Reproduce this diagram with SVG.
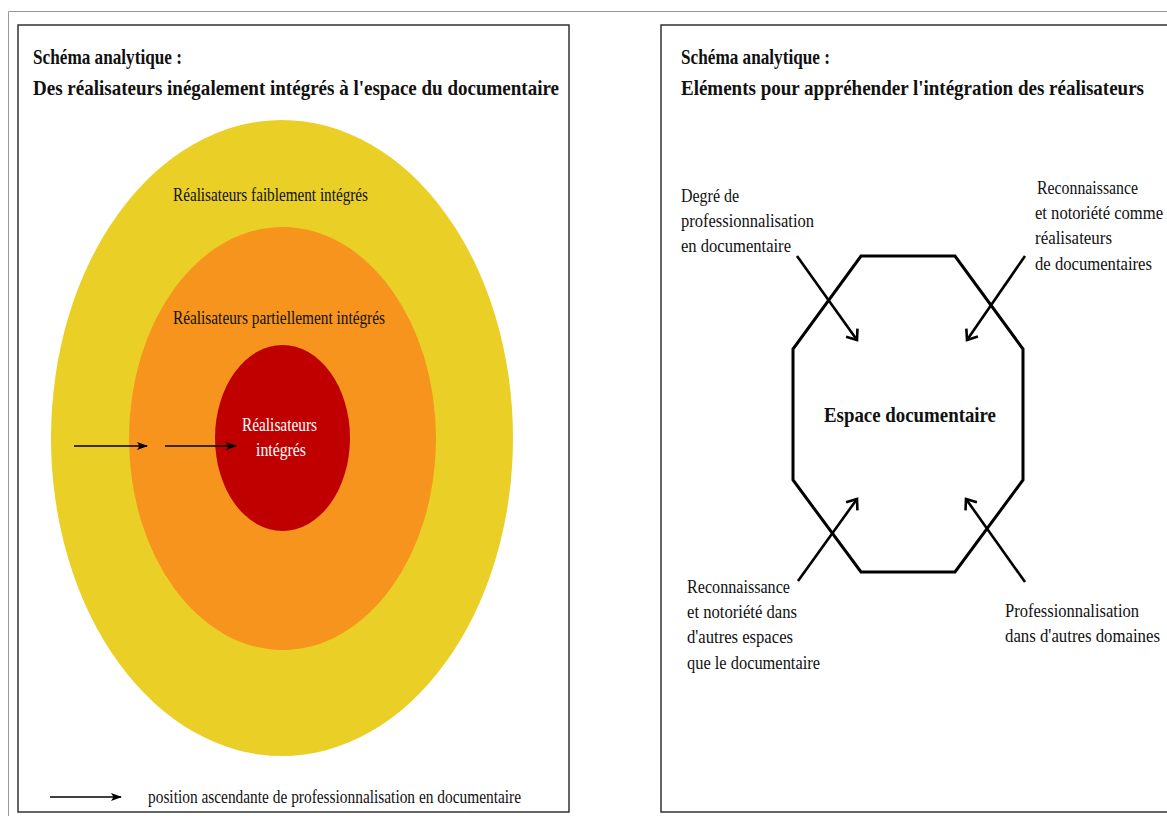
<svg xmlns="http://www.w3.org/2000/svg" width="1167" height="816" viewBox="0 0 1167 816">
<style>
.t{font-family:"Liberation Serif","DejaVu Serif",serif;fill:#111;}
.b{font-weight:bold;font-size:22px;}
.n{font-size:19px;}
.e{text-anchor:end;}
.frame{fill:none;stroke:#333;stroke-width:1.5;}
.arr{stroke:#000;stroke-width:1.6;fill:none;}
.oarr{stroke:#000;stroke-width:2.6;fill:none;}
</style>
<defs>
<marker id="solid" markerUnits="userSpaceOnUse" markerWidth="12" markerHeight="10" refX="10" refY="4" orient="auto">
<path d="M0,0 L11,4 L0,8 L2.5,4 z" fill="#000"/>
</marker>
<marker id="open" markerUnits="userSpaceOnUse" markerWidth="24" markerHeight="24" refX="12" refY="12" orient="auto" overflow="visible">
<path d="M3,5 L12,12 L3,19" fill="none" stroke="#000" stroke-width="2.6"/>
</marker>
</defs>
<rect width="1167" height="816" fill="#fff"/>
<path d="M8.5,816 V11.5 H1167" fill="none" stroke="#999" stroke-width="1"/>
<rect class="frame" x="18" y="25" width="551" height="787"/>
<path class="frame" d="M1167,25 H661 V812 H1167"/>

<g id="left-title">
<text class="t b" x="33" y="64" textLength="149" lengthAdjust="spacingAndGlyphs">Schéma analytique :</text>
<text class="t b" x="33" y="95" textLength="526" lengthAdjust="spacingAndGlyphs">Des réalisateurs inégalement intégrés à l'espace du documentaire</text>
</g>
<g id="faibles">
<ellipse cx="282" cy="438" rx="231" ry="318" fill="#EAD026"/>
<text class="t n" x="173" y="201" textLength="195" lengthAdjust="spacingAndGlyphs">Réalisateurs faiblement intégrés</text>
</g>
<g id="partiels">
<ellipse cx="282.5" cy="438.5" rx="153.5" ry="211.5" fill="#F7941E"/>
<text class="t n" x="173" y="324" textLength="212" lengthAdjust="spacingAndGlyphs">Réalisateurs partiellement intégrés</text>
</g>
<g id="integres">
<ellipse cx="282.5" cy="438" rx="67.5" ry="93" fill="#C00000"/>
<text class="t n" x="242" y="431" textLength="75" lengthAdjust="spacingAndGlyphs" style="fill:#fff">Réalisateurs</text>
<text class="t n" x="256" y="456" textLength="50" lengthAdjust="spacingAndGlyphs" style="fill:#fff">intégrés</text>
</g>
<g id="legend">
<text class="t n" x="148" y="803" textLength="373" lengthAdjust="spacingAndGlyphs">position ascendante de professionnalisation en documentaire</text>
</g>

<g id="right-title">
<text class="t b" x="681" y="64" textLength="149" lengthAdjust="spacingAndGlyphs">Schéma analytique :</text>
<text class="t b e" x="1144" y="95" textLength="463" lengthAdjust="spacingAndGlyphs">Eléments pour appréhender l'intégration des réalisateurs</text>
</g>
<g id="espace">
<polygon points="861,256 955,256 1023,349 1023,480 955,572 861,572 793,480 793,349" fill="none" stroke="#000" stroke-width="3"/>
<text class="t b" x="824" y="422" textLength="172" lengthAdjust="spacingAndGlyphs">Espace documentaire</text>
</g>
<g id="label-degre">
<text class="t n" x="681" y="202" textLength="58" lengthAdjust="spacingAndGlyphs">Degré de</text>
<text class="t n" x="681" y="227" textLength="133" lengthAdjust="spacingAndGlyphs">professionnalisation</text>
<text class="t n" x="681" y="252" textLength="110" lengthAdjust="spacingAndGlyphs">en documentaire</text>
</g>
<g id="label-reconnaissance-doc">
<text class="t n e" x="1138" y="194" textLength="101" lengthAdjust="spacingAndGlyphs">Reconnaissance</text>
<text class="t n e" x="1163" y="219" textLength="128" lengthAdjust="spacingAndGlyphs">et notoriété comme</text>
<text class="t n e" x="1112" y="244" textLength="77" lengthAdjust="spacingAndGlyphs">réalisateurs</text>
<text class="t n e" x="1152" y="270" textLength="117" lengthAdjust="spacingAndGlyphs">de documentaires</text>
</g>
<g id="label-reconnaissance-autres">
<text class="t n" x="687" y="593" textLength="103" lengthAdjust="spacingAndGlyphs">Reconnaissance</text>
<text class="t n" x="687" y="618" textLength="110" lengthAdjust="spacingAndGlyphs">et notoriété dans</text>
<text class="t n" x="687" y="643" textLength="106" lengthAdjust="spacingAndGlyphs">d'autres espaces</text>
<text class="t n" x="687" y="669" textLength="133" lengthAdjust="spacingAndGlyphs">que le documentaire</text>
</g>
<g id="label-prof-autres">
<text class="t n e" x="1139" y="617" textLength="134" lengthAdjust="spacingAndGlyphs">Professionnalisation</text>
<text class="t n e" x="1160" y="642" textLength="155" lengthAdjust="spacingAndGlyphs">dans d'autres domaines</text>
</g>

<g id="connectors">
<line class="arr" x1="74" y1="446" x2="147" y2="446" marker-end="url(#solid)"/>
<line class="arr" x1="165" y1="446" x2="236" y2="446" marker-end="url(#solid)"/>
<line class="arr" x1="50" y1="797" x2="121" y2="797" marker-end="url(#solid)"/>
<line class="oarr" x1="797" y1="256" x2="857" y2="340" marker-end="url(#open)"/>
<line class="oarr" x1="1025" y1="256" x2="967" y2="340" marker-end="url(#open)"/>
<line class="oarr" x1="798" y1="581" x2="857" y2="499" marker-end="url(#open)"/>
<line class="oarr" x1="1025" y1="582" x2="966" y2="499" marker-end="url(#open)"/>
</g>
</svg>
